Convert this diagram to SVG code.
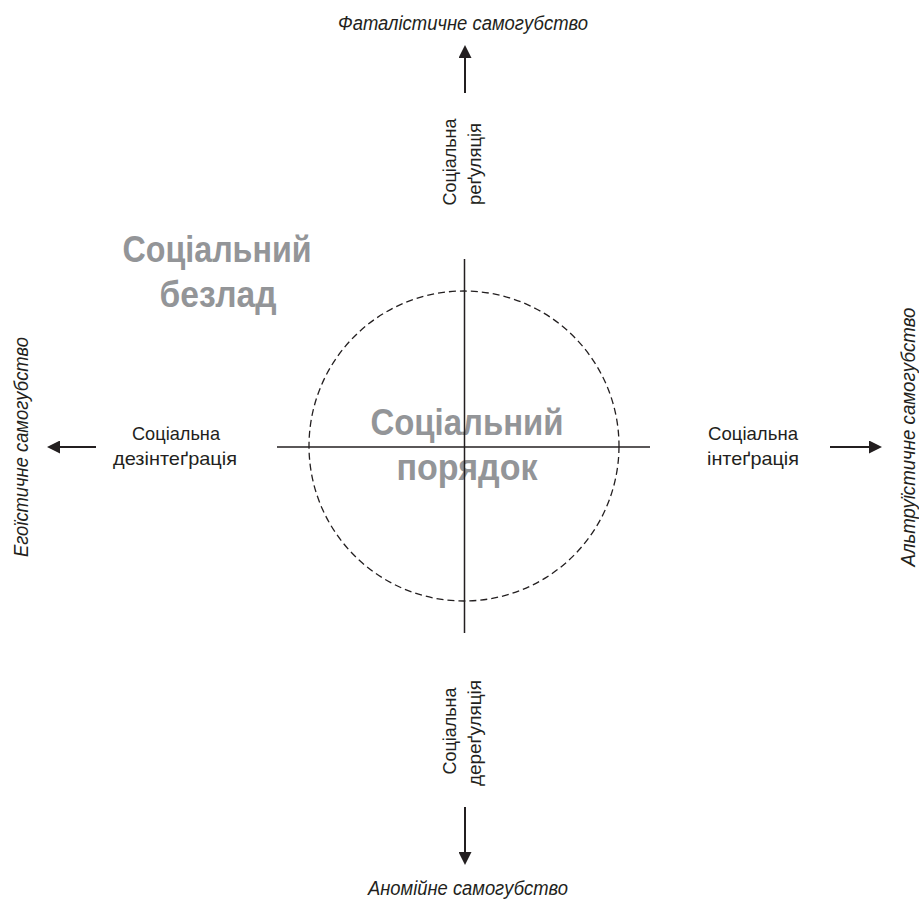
<svg xmlns="http://www.w3.org/2000/svg" width="919" height="900" viewBox="0 0 919 900">
<style>
.big{font-family:"Liberation Sans",Arial,sans-serif;font-weight:bold;font-size:37px;fill:#939598;text-anchor:middle}
.lbl{font-family:"Liberation Sans",Arial,sans-serif;font-size:19px;fill:#231f20;text-anchor:middle}
.it{font-family:"Liberation Sans",Arial,sans-serif;font-style:italic;font-size:20px;fill:#231f20;text-anchor:middle}
.ax{stroke:#231f20;stroke-width:1.5;fill:none}
.arr{stroke:#231f20;stroke-width:2;fill:none;marker-end:url(#ah)}
</style>
<defs>
<marker id="ah" viewBox="0 0 13 13" markerWidth="13" markerHeight="13" refX="0" refY="6.5" orient="auto" markerUnits="userSpaceOnUse">
<path d="M0,0 L13,6.5 L0,13 z" fill="#231f20"/>
</marker>
</defs>
<g id="disorder">
<text class="big" x="217" y="262" textLength="189" lengthAdjust="spacingAndGlyphs">Соціальний</text>
<text class="big" x="218" y="307" textLength="117" lengthAdjust="spacingAndGlyphs">безлад</text>
</g>
<g id="order">
<circle cx="464" cy="446" r="155" fill="none" stroke="#231f20" stroke-width="1.3" stroke-dasharray="7,4"/>
<text class="big" x="467" y="435" textLength="193" lengthAdjust="spacingAndGlyphs">Соціальний</text>
<text class="big" x="467" y="480" textLength="141" lengthAdjust="spacingAndGlyphs">порядок</text>
</g>
<g id="axes">
<line class="ax" x1="277" y1="447" x2="650" y2="447"/>
<line class="ax" x1="464.5" y1="259" x2="464.5" y2="633"/>
</g>
<g id="connectors">
<line class="arr" x1="465" y1="93" x2="465" y2="58"/>
<line class="arr" x1="465" y1="807" x2="465" y2="852"/>
<line class="arr" x1="96" y1="447" x2="60" y2="447"/>
<line class="arr" x1="830" y1="447" x2="869" y2="447"/>
</g>
<g id="top">
<text class="it" x="463" y="30" textLength="250" lengthAdjust="spacingAndGlyphs">Фаталістичне самогубство</text>
<text class="lbl" transform="translate(456,162) rotate(-90)" textLength="87" lengthAdjust="spacingAndGlyphs">Соціальна</text>
<text class="lbl" transform="translate(481,164) rotate(-90)" textLength="82" lengthAdjust="spacingAndGlyphs">реґуляція</text>
</g>
<g id="bottom">
<text class="lbl" transform="translate(456,731) rotate(-90)" textLength="87" lengthAdjust="spacingAndGlyphs">Соціальна</text>
<text class="lbl" transform="translate(481,733) rotate(-90)" textLength="106" lengthAdjust="spacingAndGlyphs">дереґуляція</text>
<text class="it" x="468" y="895" textLength="200" lengthAdjust="spacingAndGlyphs">Аномійне самогубство</text>
</g>
<g id="left">
<text class="lbl" x="176" y="440" textLength="88" lengthAdjust="spacingAndGlyphs">Соціальна</text>
<text class="lbl" x="175" y="465" textLength="124" lengthAdjust="spacingAndGlyphs">дезінтеґрація</text>
<text class="it" transform="translate(28,447) rotate(-90)" textLength="220" lengthAdjust="spacingAndGlyphs">Егоїстичне самогубство</text>
</g>
<g id="right">
<text class="lbl" x="753" y="440" textLength="90" lengthAdjust="spacingAndGlyphs">Соціальна</text>
<text class="lbl" x="753" y="465" textLength="92" lengthAdjust="spacingAndGlyphs">інтеґрація</text>
<text class="it" transform="translate(915,437) rotate(-90)" textLength="259" lengthAdjust="spacingAndGlyphs">Альтруїстичне самогубство</text>
</g>
</svg>
